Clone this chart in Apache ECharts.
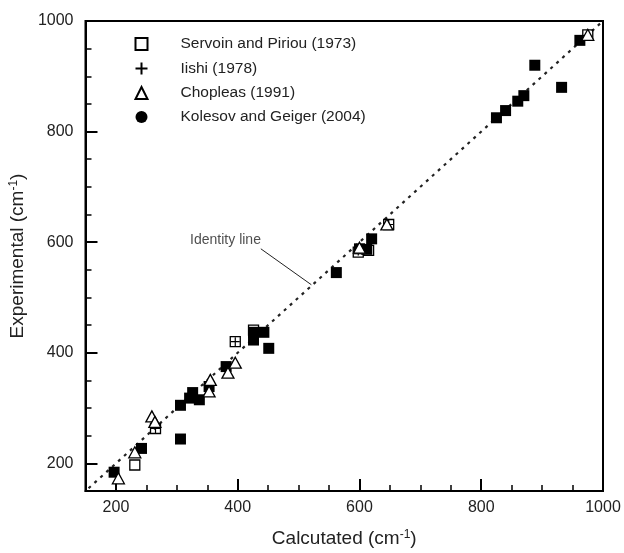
<!DOCTYPE html>
<html><head><meta charset="utf-8">
<script src="https://cdn.jsdelivr.net/npm/echarts@6/dist/echarts.min.js"></script>
<style>html,body{margin:0;padding:0;background:#fff}#c{width:624px;height:553px}</style>
</head><body><div id="c"></div>
<script>
const seriesNames = ['Servoin and Piriou (1973)', 'Iishi (1978)', 'Chopleas (1991)', 'Kolesov and Geiger (2004)'];
const servoin = [[231,197],[265,263],[396,420],[426,441],[598,582],[615,585],[648,632],[975,975]];
const iishi = [[265,263],[396,420],[598,584],[648,632]];
const chopleas = [[204,173],[231,220],[259,285],[264,275],[353,330],[355,351],[384,364],[396,382],[600,590],[645,632],[975,975]];
const kolesov = [[197,184],[242,227],[306,244],[306,305],[321,318],[326,328],[337,315],[353,339],[381,375],[426,423],[426,437],[443,437],[451,408],[562,545],[600,588],[612,587],[620,606],[825,825],[840,838],[860,855],[870,865],[888,920],[932,880],[962,965]];
const identity = [[155,155],[1000,1000]];
const arrowFrom = [438,588];
const arrowTo = [521,523];
const labelPos = [380,604];
const majorTicks = [200,400,600,800,1000];
const axisMin = 150, axisMax = 1000;

const chart = echarts.init(document.getElementById('c'));
const F = 'Liberation Sans, Arial, sans-serif';
function mkAxes(dim){
  const isX = dim==='x';
  const title = isX ? 'Calcutated' : 'Experimental';
  return [{
    type:'value', min:axisMin, max:axisMax, interval:50,
    position: isX?'bottom':'left',
    axisLine:{show:true,lineStyle:{color:'#000',width:2}},
    axisTick:{show:true,inside:true,length:6,lineStyle:{color:'#000',width:1.5}},
    axisLabel:{show:true,color:'#222',fontFamily:F,fontSize:16,margin:isX?9:12,
      formatter:v=> (v%200===0 ? String(v) : '')},
    splitLine:{show:false},
    name:'{a|'+title+' (cm}{s|-1}{a|)}',
    nameLocation:'middle', nameGap:isX?38:50, nameRotate:isX?0:90,
    nameTextStyle:{rich:{a:{fontFamily:F,fontSize:19,color:'#222'},s:{fontFamily:F,fontSize:12,color:'#222',verticalAlign:'top',lineHeight:12}}}
  },{
    type:'value', min:axisMin, max:axisMax,
    position: isX?'bottom':'left',
    axisLine:{show:false},
    axisTick:{show:true,inside:true,length:12,customValues:majorTicks,lineStyle:{color:'#000',width:2}},
    axisLabel:{show:false},
    splitLine:{show:false}
  }];
}
const base = {type:'scatter', xAxisIndex:0, yAxisIndex:0};
chart.setOption({
  animation:false,
  backgroundColor:'#fff',
  grid:{left:85,right:21,top:21,bottom:58,show:true,borderColor:'#000',borderWidth:2},
  xAxis: mkAxes('x'),
  yAxis: mkAxes('y'),
  legend:{
    orient:'vertical', left:128, top:31, itemGap:8, itemWidth:12, itemHeight:12,
    data:[
      {name:seriesNames[0]},
      {name:seriesNames[1]},
      {name:seriesNames[2]},
      {name:seriesNames[3], icon:'circle'}
    ],
    textStyle:{fontFamily:F,fontSize:15.5,color:'#222',padding:[0,0,0,28]}
  },
  series:[
    {type:'line', data:identity, symbol:'none', silent:true, z:1,
     lineStyle:{color:'#222',width:2.2,type:[3,5]},
     markLine:{silent:true, symbol:['none','arrow'], symbolSize:[0,9],
       lineStyle:{color:'#222',width:1,type:'solid'}, label:{show:false},
       data:[[{coord:arrowFrom},{coord:arrowTo}]]}},
    {type:'scatter', data:[labelPos], symbolSize:0, silent:true,
     label:{show:true, position:'inside', formatter:'Identity line', fontFamily:F, fontSize:14, color:'#222'}},
    Object.assign({}, base, {name:seriesNames[3], data:kolesov, symbol:'rect', symbolSize:11, z:2,
      itemStyle:{color:'#000', borderColor:'#000', borderWidth:0, opacity:1}}),
    Object.assign({}, base, {name:seriesNames[0], data:servoin, symbol:'rect', symbolSize:10, z:3,
      itemStyle:{color:'rgba(255,255,255,0)', borderColor:'#000', borderWidth:1.3, opacity:1}}),
    Object.assign({}, base, {name:seriesNames[1], data:iishi, symbol:'path://M0,5L10,5M5,0L5,10', symbolSize:9, z:4,
      itemStyle:{color:'none', borderColor:'#000', borderWidth:1.2, opacity:1}}),
    Object.assign({}, base, {name:seriesNames[2], data:chopleas, symbol:'triangle', symbolSize:[12,11], z:5,
      itemStyle:{color:'#fff', borderColor:'#000', borderWidth:1.3, opacity:1}})
  ]
});
</script></body></html>
